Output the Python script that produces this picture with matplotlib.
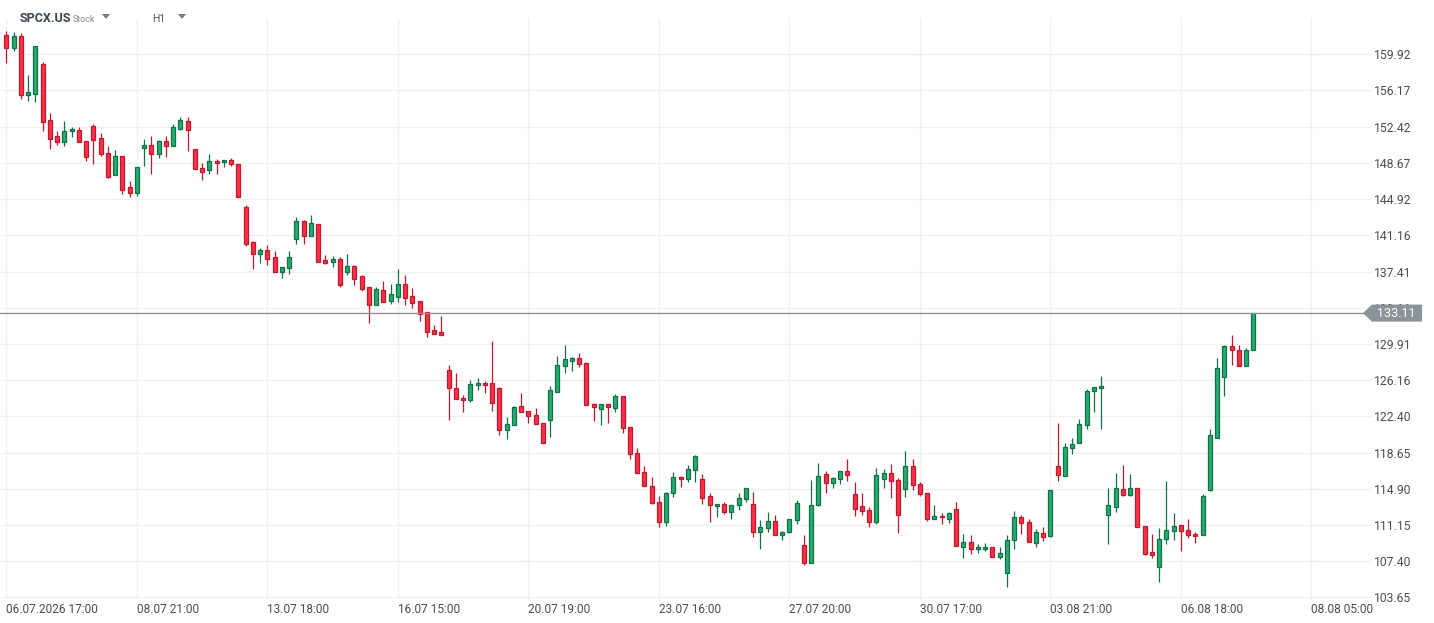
import matplotlib
matplotlib.use("Agg")
import matplotlib.pyplot as plt
from matplotlib.patches import Polygon
import numpy as np

plt.rcParams['font.family'] = ['Roboto', 'DejaVu Sans']

# hourly candles, SPCX.US
opens = [
    161.88, 160.61, 161.78, 155.67, 155.84, 158.88, 153.08, 151.42, 150.80, 151.94,
    152.04, 150.91, 152.46, 151.22, 149.66, 147.38, 149.35, 146.14, 145.52, 150.25,
    150.49, 149.56, 150.91, 150.39, 152.22, 152.98, 150.08, 148.11, 147.90, 148.83,
    148.73, 148.94, 148.52, 144.10, 140.44, 139.27, 139.61, 138.89, 137.40, 137.82,
    140.82, 142.62, 141.13, 142.31, 138.58, 138.44, 138.68, 137.40, 137.96, 136.92,
    135.78, 133.99, 135.47, 134.40, 134.82, 136.09, 134.85, 134.33, 133.19, 131.33,
    131.12, 127.18, 125.32, 124.28, 124.08, 125.63, 125.84, 125.84, 125.32, 120.97,
    121.49, 123.46, 122.94, 122.52, 121.69, 122.00, 124.91, 127.60, 128.12, 128.43,
    127.91, 123.66, 123.14, 123.66, 123.25, 124.49, 121.28, 118.59, 116.62, 115.17,
    113.51, 111.44, 114.44, 116.10, 115.89, 116.83, 115.89, 114.13, 113.10, 113.30,
    112.48, 113.20, 113.82, 113.30, 110.40, 110.82, 111.54, 110.09, 110.40, 111.65,
    109.06, 107.19, 113.20, 116.41, 115.48, 115.89, 116.72, 114.34, 113.10, 112.68,
    111.51, 115.89, 116.52, 115.79, 114.86, 117.24, 115.38, 114.44, 111.82, 112.13,
    111.82, 112.79, 108.92, 109.44, 108.64, 108.64, 108.85, 107.81, 106.23, 109.58,
    111.96, 111.44, 109.26, 110.30, 109.99, 117.24, 116.20, 119.10, 119.62, 121.49,
    125.01, 125.32, 112.16, 112.99, 114.86, 114.24, 114.96, 111.02, 108.33, 106.85,
    109.68, 110.51, 111.13, 110.61, 110.20, 110.09, 114.75, 120.14, 126.46, 129.67,
    129.26, 127.60, 129.26]

highs = [
    162.33, 162.26, 162.13, 157.78, 160.75, 159.12, 153.84, 151.98, 153.01, 152.39,
    152.39, 150.91, 152.70, 151.77, 150.42, 150.01, 149.35, 146.83, 148.21, 151.15,
    151.46, 151.04, 151.46, 152.70, 153.43, 153.43, 150.08, 148.63, 149.59, 149.04,
    148.94, 149.14, 148.52, 144.31, 140.55, 139.82, 140.13, 139.51, 137.85, 139.51,
    143.03, 142.72, 143.24, 142.31, 139.10, 138.99, 138.89, 139.23, 138.06, 137.02,
    135.78, 135.78, 136.44, 136.13, 137.68, 137.02, 135.68, 134.33, 133.19, 131.85,
    132.78, 127.74, 126.87, 124.59, 126.15, 126.36, 126.05, 130.22, 125.42, 122.35,
    123.46, 124.80, 122.94, 123.25, 121.69, 125.53, 128.67, 129.81, 128.57, 128.98,
    128.01, 123.77, 123.66, 123.66, 124.70, 124.49, 121.28, 119.14, 117.28, 116.14,
    114.13, 114.55, 116.65, 116.20, 117.34, 118.41, 116.45, 114.44, 113.30, 113.55,
    113.20, 114.44, 114.96, 114.55, 111.65, 112.48, 112.17, 110.51, 111.75, 113.72,
    110.09, 115.79, 117.55, 116.72, 116.10, 116.72, 117.97, 115.58, 114.44, 112.99,
    117.03, 116.93, 117.45, 116.00, 118.79, 117.97, 115.58, 114.44, 113.20, 112.44,
    112.48, 113.51, 110.20, 110.09, 109.16, 109.26, 108.85, 108.85, 110.09, 112.58,
    112.17, 111.75, 110.72, 110.92, 114.76, 121.69, 119.62, 120.14, 122.11, 125.22,
    125.42, 126.56, 114.96, 116.51, 117.34, 116.41, 114.96, 111.02, 110.20, 110.82,
    115.69, 112.37, 111.13, 111.75, 110.40, 114.34, 121.07, 128.43, 129.77, 130.81,
    129.77, 129.46, 133.11]

lows = [
    159.05, 160.30, 155.32, 155.12, 155.01, 151.98, 150.15, 150.56, 150.46, 151.39,
    150.80, 148.90, 148.59, 149.42, 147.11, 147.38, 145.48, 145.17, 145.28, 148.38,
    147.56, 149.21, 149.32, 150.39, 152.11, 149.94, 148.00, 146.93, 147.56, 147.56,
    148.28, 148.38, 145.17, 140.10, 137.68, 138.34, 138.13, 137.40, 136.75, 137.20,
    140.31, 140.31, 141.13, 138.44, 138.23, 137.92, 135.85, 137.09, 136.06, 135.44,
    132.09, 133.99, 134.30, 134.09, 134.30, 133.99, 133.68, 132.33, 130.67, 130.98,
    130.88, 122.07, 124.18, 122.90, 123.94, 125.18, 124.87, 123.01, 120.52, 120.11,
    121.49, 122.83, 121.76, 121.59, 119.62, 120.31, 124.91, 126.87, 127.08, 127.50,
    123.56, 121.97, 121.56, 121.76, 122.90, 120.73, 118.03, 116.52, 115.17, 113.30,
    110.92, 111.09, 114.03, 115.07, 115.58, 115.58, 113.30, 111.44, 111.96, 112.27,
    111.82, 112.68, 113.51, 109.96, 108.64, 110.47, 110.09, 109.64, 110.30, 111.23,
    106.99, 107.19, 113.10, 114.44, 114.96, 115.38, 115.69, 112.06, 112.23, 110.99,
    111.30, 115.03, 113.99, 110.37, 114.10, 114.76, 114.13, 111.61, 111.82, 111.30,
    111.41, 109.02, 107.78, 108.19, 108.30, 108.50, 107.81, 107.68, 104.78, 108.71,
    110.27, 109.37, 108.92, 109.54, 109.89, 115.76, 116.20, 118.48, 119.62, 121.14,
    122.83, 121.14, 109.23, 112.47, 114.13, 114.13, 110.92, 108.09, 107.78, 105.29,
    109.16, 109.57, 108.44, 109.78, 109.26, 110.09, 114.65, 120.14, 124.56, 127.70,
    127.60, 127.60, 129.26]

closes = [
    160.61, 161.78, 155.67, 155.98, 160.75, 152.94, 151.18, 150.80, 151.94, 152.15,
    150.80, 149.32, 151.08, 149.56, 147.21, 149.35, 145.90, 145.52, 148.21, 150.49,
    149.56, 150.91, 150.39, 152.36, 153.08, 152.11, 148.00, 147.76, 148.83, 148.63,
    148.94, 148.52, 145.17, 140.31, 139.27, 139.61, 138.75, 137.40, 137.85, 138.89,
    142.62, 141.13, 142.41, 138.44, 138.34, 138.68, 136.06, 137.96, 136.68, 135.64,
    133.99, 135.57, 134.30, 135.06, 136.09, 134.71, 134.19, 133.05, 131.19, 130.98,
    130.88, 125.32, 124.18, 124.08, 125.73, 125.84, 125.63, 123.77, 120.97, 121.59,
    123.35, 122.83, 122.42, 121.59, 119.62, 125.11, 127.70, 128.32, 128.43, 127.81,
    123.56, 123.35, 123.66, 123.35, 124.49, 121.18, 118.48, 116.52, 115.17, 113.41,
    111.44, 114.44, 116.10, 115.89, 116.93, 118.28, 113.93, 113.20, 113.30, 112.48,
    113.20, 113.93, 114.96, 110.40, 110.92, 111.54, 110.09, 110.40, 111.75, 113.41,
    107.19, 113.20, 116.20, 115.48, 116.00, 116.72, 116.31, 112.79, 112.58, 111.51,
    116.31, 116.52, 115.69, 112.23, 117.24, 115.27, 114.34, 111.82, 112.13, 111.96,
    112.37, 109.02, 109.44, 108.64, 108.85, 108.85, 107.81, 108.23, 109.58, 111.96,
    111.34, 109.37, 110.40, 109.89, 114.76, 116.31, 119.21, 119.52, 121.59, 125.01,
    125.42, 125.53, 113.20, 114.96, 114.24, 114.96, 110.92, 108.19, 108.09, 109.68,
    110.61, 111.02, 110.51, 110.09, 109.99, 114.13, 120.45, 127.39, 129.67, 129.26,
    127.60, 129.26, 133.11]

tick_labels = ['06.07.2026 17:00', '08.07 21:00', '13.07 18:00', '16.07 15:00',
               '20.07 19:00', '23.07 16:00', '27.07 20:00', '30.07 17:00',
               '03.08 21:00', '06.08 18:00', '08.08 05:00']
tick_every = 18
price_levels = [159.92, 156.17, 152.42, 148.67, 144.92, 141.16, 137.41, 133.66,
                129.91, 126.16, 122.40, 118.65, 114.90, 111.15, 107.40, 103.65]
last_price = 133.11

o = np.array(opens)
h = np.array(highs)
l = np.array(lows)
c = np.array(closes)
x = np.arange(len(o))
up = c >= o

W, H = 1434, 623
fig = plt.figure(figsize=(W / 100, H / 100), dpi=100)
ax = fig.add_axes([0, 23 / H, 1372 / W, 582 / H])

red_fill, red_edge = '#ff3045', '#bd1a2f'
grn_fill, grn_edge = '#25ad70', '#117047'

wick_col = np.where(up, grn_edge, red_edge)
ax.vlines(x, l, h, colors=wick_col, linewidth=0.9, zorder=2)
body_h = np.maximum(np.abs(c - o), 0.06)
ax.bar(x, body_h, bottom=np.minimum(o, c), width=0.56,
       color=np.where(up, grn_fill, red_fill),
       edgecolor=wick_col, linewidth=0.9, zorder=3)

ax.axhline(last_price, color='#8a9398', linewidth=1.0, zorder=4)

ax.set_xlim(-0.87, 188.37)
ax.set_ylim(103.39, 163.68)

ax.set_xticks(np.arange(len(tick_labels)) * tick_every)
ax.set_xticklabels(tick_labels, ha='left', fontsize=8.6, color='#4d4d4d')
ax.tick_params(axis='x', length=0, pad=2)
ax.yaxis.tick_right()
ax.set_yticks(price_levels)
ax.set_yticklabels([f'{v:.2f}' for v in price_levels], fontsize=8.7, color='#4d4d4d')
ax.tick_params(axis='y', length=0, pad=1.5)
ax.grid(True, color='#f0f0f0', linewidth=1.0, zorder=0)
ax.set_axisbelow(True)
for s in ax.spines.values():
    s.set_visible(False)

# price tag on the right axis
ty = ax.transData.transform((0, last_price))[1]
tag = [(1363, ty), (1372, ty + 8.5), (1422, ty + 8.5), (1422, ty - 8.5), (1372, ty - 8.5)]
fig.add_artist(Polygon([(px / W, py / H) for px, py in tag], closed=True,
                       transform=fig.transFigure, facecolor='#8a9398',
                       edgecolor='none', zorder=5))
fig.text(1396 / W, ty / H, f'{last_price:.2f}', color='white', fontsize=9,
         ha='center', va='center', zorder=6)

# header
fig.text(20 / W, 1 - 18 / H, 'SPCX.US', fontsize=9, fontweight='bold',
         color='#3b4650', va='center')
fig.text(73 / W, 1 - 19 / H, 'Stock', fontsize=6.5, color='#8a8a8a', va='center')
fig.text(152 / W, 1 - 19 / H, 'H1', fontsize=7.5, color='#555555', va='center')
for cx in (106, 182):
    tri = [(cx - 4, H - 14), (cx + 4, H - 14), (cx, H - 19)]
    fig.add_artist(Polygon([(px / W, py / H) for px, py in tri], closed=True,
                           transform=fig.transFigure, facecolor='#7a7a7a',
                           edgecolor='none'))

fig.savefig('out.png', dpi=100)
